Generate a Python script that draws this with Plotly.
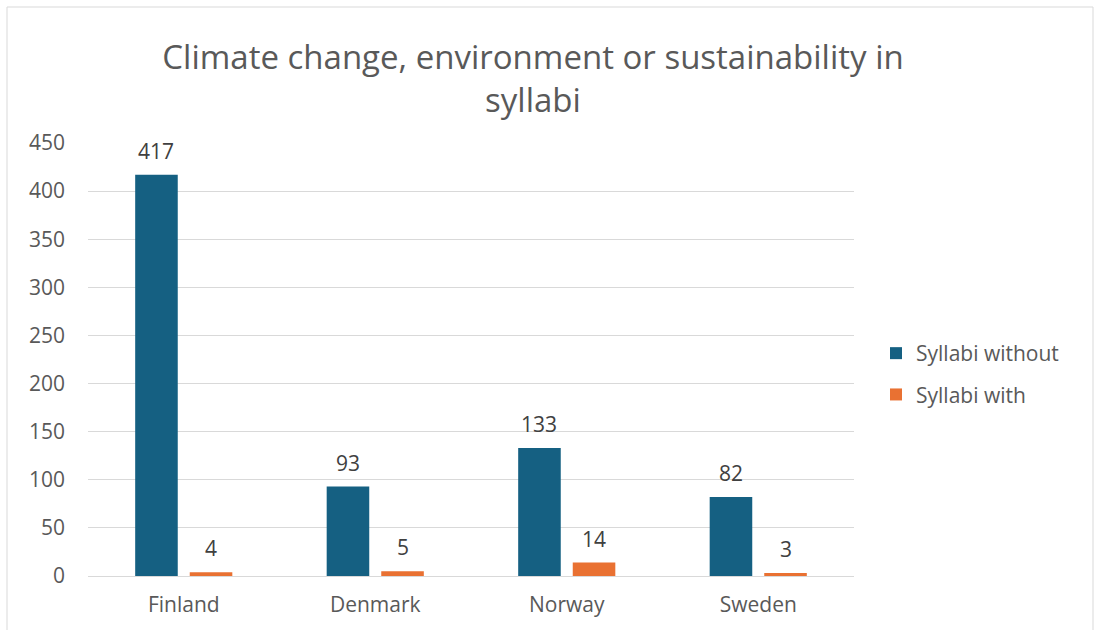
import plotly.graph_objects as go

countries = ["Finland", "Denmark", "Norway", "Sweden"]
without_vals = [417, 93, 133, 82]
with_vals = [4, 5, 14, 3]
y_ticks = [0, 50, 100, 150, 200, 250, 300, 350, 400, 450]

W, H = 1099, 630
L, R, T, B = 88, 245, 143, 54
pw, ph = W - L - R, H - T - B

font_family = "Open Sans, Lato, sans-serif"
txt = "#595959"
lbl = "#404040"
FS = 21

fig = go.Figure()
fig.add_trace(go.Bar(
    name="Syllabi without", x=countries, y=without_vals, legendgroup="a",
    marker=dict(color="#156082", line=dict(width=0)),
))
fig.add_trace(go.Bar(
    name="Syllabi with", x=countries, y=with_vals, legendgroup="b",
    marker=dict(color="#E97132", line=dict(width=0)),
))

# data labels above each bar
bar_shift = 27.5
for c, v in zip(countries, without_vals):
    fig.add_annotation(x=c, y=v, text=str(v), showarrow=False, xshift=-bar_shift,
                       yanchor="bottom", yshift=8, font=dict(size=FS, color=lbl))
for c, v in zip(countries, with_vals):
    fig.add_annotation(x=c, y=v, text=str(v), showarrow=False, xshift=bar_shift,
                       yanchor="bottom", yshift=8, font=dict(size=FS, color=lbl))

fig.update_layout(
    width=W, height=H,
    margin=dict(l=L, r=R, t=T, b=B),
    paper_bgcolor="white", plot_bgcolor="white",
    barmode="group", bargap=0.43, bargroupgap=0.22,
    font=dict(family=font_family, color=txt, size=FS),
    title=dict(
        text="Climate change, environment or sustainability in<br>syllabi",
        x=0.485, xanchor="center", y=1 - 69 / H, yanchor="middle",
        font=dict(size=33, color=txt, family=font_family),
    ),
    legend=dict(
        x=(876 - L) / pw, xanchor="left", y=1 - (374 - T) / ph, yanchor="middle",
        font=dict(size=FS, color=txt), tracegroupgap=11,
        itemwidth=30, bgcolor="rgba(0,0,0,0)",
    ),
    showlegend=True,
    xaxis=dict(
        showgrid=False, showline=False, ticks="", tickfont=dict(size=FS, color=txt),
        ticklabelstandoff=14,
    ),
    yaxis=dict(
        range=[0, 450], tickvals=y_ticks, showgrid=True, gridcolor="#d9d9d9", gridwidth=1,
        zeroline=True, zerolinecolor="#d9d9d9", zerolinewidth=1,
        showline=False, ticks="", tickfont=dict(size=FS, color=txt),
        ticklabelstandoff=22,
    ),
    shapes=[dict(
        type="rect", xref="paper", yref="paper",
        x0=(7 - L) / pw, x1=(1093 - L) / pw,
        y0=-(B + 5) / ph, y1=1 + (T - 7) / ph,
        line=dict(color="#d9d9d9", width=1), fillcolor="rgba(0,0,0,0)", layer="below",
    )],
)

fig.write_html("out.html")
